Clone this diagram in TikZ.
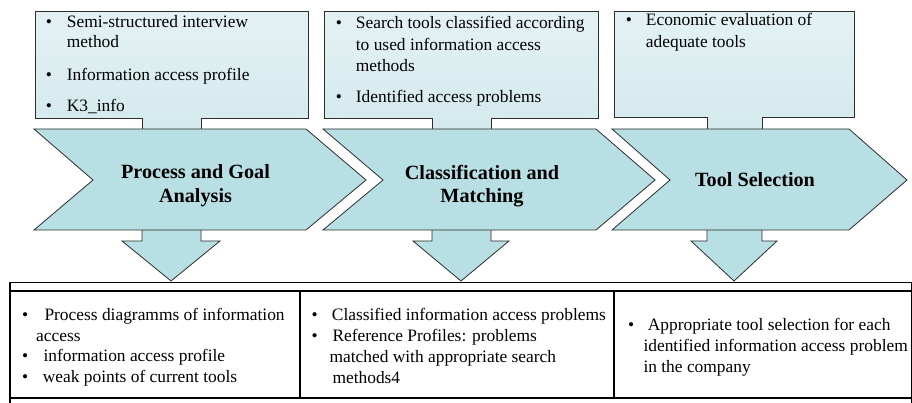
\documentclass[tikz,border=0pt]{standalone}
\usepackage{fontspec}
\setmainfont{Liberation Serif}
\definecolor{chev}{RGB}{184,223,227}
\definecolor{boxtop}{RGB}{228,241,244}
\definecolor{boxbot}{RGB}{212,234,237}
\definecolor{edge}{RGB}{45,45,45}
\begin{document}
\begin{tikzpicture}[x=1pt,y=-1pt,line join=miter,
  chevshape/.style={fill=chev,draw=edge,line width=0.8pt},
  callshape/.style={top color=boxtop,bottom color=boxbot,draw=edge,line width=0.8pt},
  arrowfill/.style={fill=chev},
  arrowline/.style={draw=edge,line width=0.8pt},
  body/.style={font=\fontsize{17.4}{21}\selectfont,anchor=base west,inner sep=0pt},
  title/.style={font=\bfseries\fontsize{20.2}{24}\selectfont,anchor=base,inner sep=0pt},
  rule/.style={draw=black,line width=#1}]
\useasboundingbox (0,0) rectangle (912,403);

% top callouts
\path[callshape] (35,11) -- (308,11) -- (308,118) -- (201,118) -- (201,129) -- (142,129) -- (142,118) -- (35,118) -- cycle;
\path[callshape] (324,11) -- (598,11) -- (598,118) -- (491,118) -- (491,129) -- (432,129) -- (432,118) -- (324,118) -- cycle;
\path[callshape] (614,11) -- (854,11) -- (854,117) -- (762,117) -- (762,129) -- (707,129) -- (707,117) -- (614,117) -- cycle;

% down arrows
\fill[arrowfill] (142,229) -- (142,241) -- (122,241) -- (171,281) -- (220,241) -- (201,241) -- (201,229) -- cycle;
\draw[arrowline] (142,230) -- (142,241) -- (122,241) -- (171,281) -- (220,241) -- (201,241) -- (201,230);
\fill[arrowfill] (432,229) -- (432,241) -- (413,241) -- (461,281) -- (509,241) -- (491,241) -- (491,229) -- cycle;
\draw[arrowline] (432,230) -- (432,241) -- (413,241) -- (461,281) -- (509,241) -- (491,241) -- (491,230);
\fill[arrowfill] (707,229) -- (707,241) -- (691,241) -- (734,281) -- (777,241) -- (762,241) -- (762,229) -- cycle;
\draw[arrowline] (707,230) -- (707,241) -- (691,241) -- (734,281) -- (777,241) -- (762,241) -- (762,230);

% chevrons
\path[chevshape] (34,129) -- (306,129) -- (366,180) -- (306,230) -- (34,230) -- (93,180) -- cycle;
\path[chevshape] (323,129) -- (596,129) -- (655,180) -- (596,230) -- (323,230) -- (383,180) -- cycle;
\path[chevshape] (612,129) -- (849,129) -- (907,180) -- (849,230) -- (612,230) -- (670,180) -- cycle;

\node[title] (t1a) at (195.5,179) {Process and Goal};
\node[title] (t1b) at (195.5,203) {Analysis};
\node[title] (t2a) at (482,180) {Classification and};
\node[title] (t2b) at (482,203) {Matching};
\node[title] (t3) at (755,186.5) {Tool Selection};

% callout texts
\node[body] (b1a) at (45.7,27.3) {•};
\node[body] (c1a) at (66.7,27.3) {Semi-structured interview};
\node[body] (c1b) at (66.7,47.7) {method};
\node[body] (b1b) at (45.7,81) {•};
\node[body] (c1c) at (66.7,81) {Information access profile};
\node[body] (b1c) at (45.7,111.7) {•};
\node[body] (c1d) at (66.7,111.7) {K3\_info};

\node[body] (b2a) at (335.7,28.7) {•};
\node[body] (c2a) at (355.7,28.7) {Search tools classified according};
\node[body] (c2b) at (355.7,50.5) {to used information access};
\node[body] (c2c) at (355.7,72) {methods};
\node[body] (b2b) at (335.7,102.5) {•};
\node[body] (c2d) at (355.7,102.5) {Identified access problems};

\node[body] (b3a) at (625.7,25.7) {•};
\node[body] (c3a) at (645.7,25.7) {Economic evaluation of};
\node[body] (c3b) at (645.7,47.5) {adequate tools};

% table
\draw[rule=0.9pt] (10,282) -- (911,282);
\draw[rule=1.8pt] (10,291) -- (911,291);
\draw[rule=1.6pt] (10,282) -- (10,403);
\draw[rule=1pt] (911,282) -- (911,403);
\draw[rule=1.4pt] (300,291) -- (300,398);
\draw[rule=1.8pt] (614,291) -- (614,398);
\draw[rule=1.6pt] (10,398) -- (911,398);

\node[body] (tb1a) at (22,320.7) {•};
\node[body] (tx1a) at (44.3,320.7) {Process diagramms of information};
\node[body] (tx1b) at (36,341) {access};
\node[body] (tb1b) at (22,361) {•};
\node[body] (tx1c) at (43.3,361) {information access profile};
\node[body] (tb1c) at (22,382.7) {•};
\node[body] (tx1d) at (42.7,382.7) {weak points of current tools};

\node[body] (tb2a) at (311.3,320.7) {•};
\node[body] (tx2a) at (331.7,320.7) {Classified information access problems};
\node[body] (tb2b) at (311.3,341) {•};
\node[body] (tx2b) at (332.3,341) {Reference Profiles: problems};
\node[body] (tx2c) at (329.3,362) {matched with appropriate search};
\node[body] (tx2d) at (332.3,383) {methods4};

\node[body] (tb3a) at (628,330) {•};
\node[body] (tx3a) at (647.7,330) {Appropriate tool selection for each};
\node[body] (tx3b) at (643.3,351.7) {identified information access problem};
\node[body] (tx3c) at (643.3,372.7) {in the company};
\end{tikzpicture}
\end{document}
